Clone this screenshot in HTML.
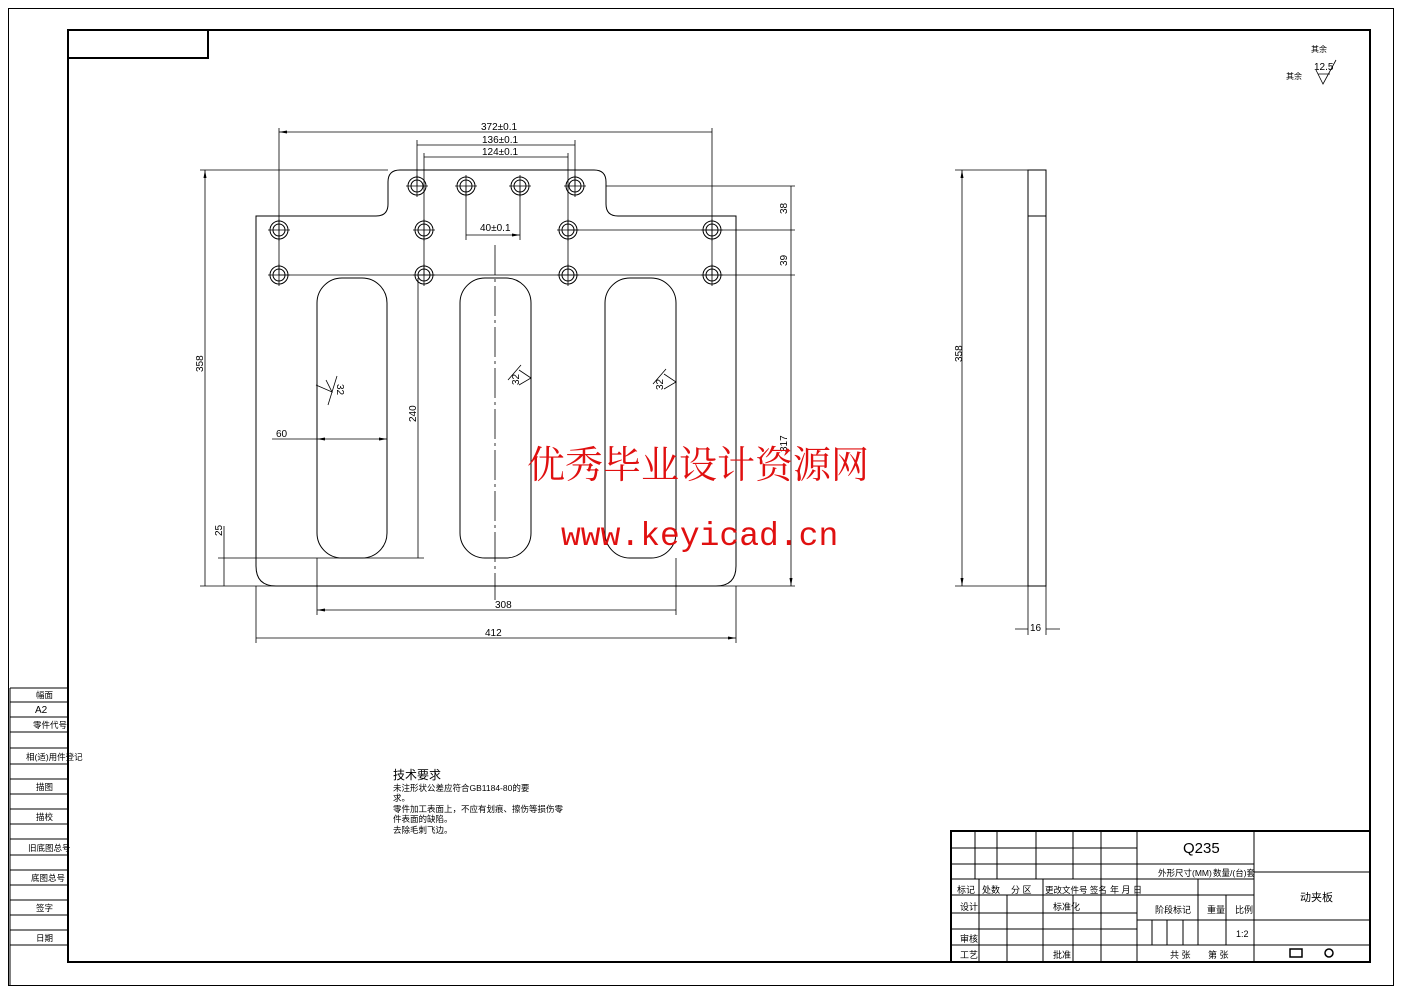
<!DOCTYPE html>
<html><head><meta charset="utf-8"><style>
html,body{margin:0;padding:0;background:#fff;}
svg{display:block;}
text{font-family:"Liberation Sans","Noto Sans CJK SC",sans-serif;fill:#000;}
</style></head><body>
<svg width="1403" height="992" viewBox="0 0 1403 992" xmlns="http://www.w3.org/2000/svg">
<defs>
<marker id="a" markerWidth="8" markerHeight="4" refX="8" refY="2" orient="auto-start-reverse" markerUnits="userSpaceOnUse"><path d="M8,2 L0,0.5 L0,3.5 Z" fill="#000"/></marker>
<g id="h"><circle r="9" fill="none" stroke="#000" stroke-width="1"/><circle r="6" fill="none" stroke="#000" stroke-width="1"/><path d="M-11,0H11M0,-11V11" stroke="#000" stroke-width="0.8"/></g>
</defs>
<rect width="1403" height="992" fill="#fff"/>
<g fill="none" stroke="#000">
<rect x="8.5" y="8.5" width="1385" height="977" stroke-width="1"/>
<rect x="68" y="30" width="1302" height="932" stroke-width="2"/>
<rect x="68" y="30" width="140" height="28" stroke-width="2"/>
<g stroke-width="1">
<path d="M10,688H68M10,702H68M10,717H68M10,732H68M10,748H68M10,764H68M10,779H68M10,794H68M10,809H68M10,824H68M10,839H68M10,855H68M10,870H68M10,885H68M10,900H68M10,915H68M10,930H68M10,945H68"/>
<path d="M10,688V985"/>
</g>
</g>
<g font-size="8.5">
<text x="36" y="698">幅面</text><text x="35" y="713" font-size="10">A2</text><text x="33" y="728">零件代号</text>
<text x="26" y="760">相(适)用件登记</text><text x="36" y="790">描图</text><text x="36" y="820">描校</text>
<text x="28" y="851">旧底图总号</text><text x="31" y="881">底图总号</text><text x="36" y="911">签字</text><text x="36" y="941">日期</text>
</g>

<g fill="none" stroke="#000" stroke-width="1">
<path d="M256,216 H376 Q388,216 388,204 V182 Q388,170 400,170 H594 Q606,170 606,182 V204 Q606,216 618,216 H736 V566 Q736,586 716,586 H276 Q256,586 256,566 Z"/>
<rect x="317" y="278" width="70" height="280" rx="25"/>
<rect x="460" y="278" width="71" height="280" rx="25"/>
<rect x="605" y="278" width="71" height="280" rx="25"/>
<path d="M495,245V600" stroke-dasharray="30,4,3,4" stroke-width="0.8"/>
</g>
<g>
<use href="#h" x="417" y="186"/><use href="#h" x="466" y="186"/><use href="#h" x="520" y="186"/><use href="#h" x="575" y="186"/>
<use href="#h" x="279" y="230"/><use href="#h" x="424" y="230"/><use href="#h" x="568" y="230"/><use href="#h" x="712" y="230"/>
<use href="#h" x="279" y="275"/><use href="#h" x="424" y="275"/><use href="#h" x="568" y="275"/><use href="#h" x="712" y="275"/>
</g>
<g fill="none" stroke="#000" stroke-width="0.8">
<path d="M279,128V275M712,128V275M417,140V186M575,140V186M424,153V275M568,153V275M466,186V240M520,186V240"/>
<path d="M279,132H712M417,145H575M424,157H568M466,235H520" marker-start="url(#a)" marker-end="url(#a)"/>
<path d="M200,170H388M606,186H795M568,230H795M279,275H795M200,586H795"/>
<path d="M205,170V586M224,558V586M418,278V558M791,186V230M791,230V275M791,275V586" marker-start="url(#a)" marker-end="url(#a)"/>
<path d="M218,558H424M224,526V558"/>
<path d="M272,439H317"/>
<path d="M317,439H387" marker-start="url(#a)" marker-end="url(#a)"/>
<path d="M317,558V615M676,558V615M256,586V643M736,586V643"/>
<path d="M317,610H676M256,638H736" marker-start="url(#a)" marker-end="url(#a)"/>
<rect x="1028" y="170" width="18" height="416" stroke-width="1"/>
<path d="M1028,216H1046" stroke-width="1"/>
<path d="M955,170H1028M955,586H1028M1028,586V635M1046,586V635"/>
<path d="M962,170V586" marker-start="url(#a)" marker-end="url(#a)"/>
<path d="M1015,629H1028M1046,629H1060"/>
<path d="M316,385 L332,392 L326,380 M337,376 L328,405"/>
<path d="M519,370 L531,378 L519,385 M508,380 L521,365"/>
<path d="M664,374 L676,382 L664,389 M653,384 L666,369"/>
<path d="M1316,70 L1323,84 L1336,60 M1318,74H1330"/>
</g>
<g font-size="10">
<text x="481" y="130">372±0.1</text><text x="482" y="143">136±0.1</text><text x="482" y="155">124±0.1</text>
<text x="480" y="231">40±0.1</text>
<text x="276" y="437">60</text>
<text x="495" y="608">308</text><text x="485" y="636">412</text>
<text x="1030" y="631">16</text>
<text transform="translate(203,372) rotate(-90)">358</text>
<text transform="translate(222,536) rotate(-90)">25</text>
<text transform="translate(416,422) rotate(-90)">240</text>
<text transform="translate(787,214) rotate(-90)">38</text>
<text transform="translate(787,266) rotate(-90)">39</text>
<text transform="translate(787,452) rotate(-90)">317</text>
<text transform="translate(962,362) rotate(-90)">358</text>
<text transform="translate(337,384) rotate(90)">32</text>
<text transform="translate(519,385) rotate(-90)">32</text>
<text transform="translate(663,390) rotate(-90)">32</text>
<text x="1314" y="70">12.5</text>
</g>
<g font-size="8"><text x="1311" y="52">其余</text><text x="1286" y="79">其余</text></g>

<text x="393" y="779" font-size="12">技术要求</text>
<g font-size="8.5"><text x="393" y="791">未注形状公差应符合GB1184-80的要</text><text x="393" y="801">求。</text>
<text x="393" y="812">零件加工表面上，不应有划痕、擦伤等损伤零</text><text x="393" y="822">件表面的缺陷。</text><text x="393" y="833">去除毛刺飞边。</text></g>

<g fill="none" stroke="#000">
<rect x="951" y="831" width="419" height="131" stroke-width="2"/>
<g stroke-width="1">
<path d="M951,848H1137M951,864H1137M951,879H1137M951,895H1137M951,913H1137M951,929H1137M951,945H1137"/>
<path d="M975,831V879M997,831V879M1036,831V879M1073,831V879M1101,831V879"/>
<path d="M979,879V962M1007,895V962M1043,879V962M1073,895V962M1101,879V962"/>
<path d="M1137,831V962M1254,831V962"/>
<path d="M1137,864H1254M1137,879H1254M1198,879V895M1137,895H1254M1137,920H1254M1137,945H1254"/>
<path d="M1198,895V945M1226,895V945M1152,920V945M1167,920V945M1183,920V945"/>
<path d="M1254,872H1370M1254,920H1370M1254,945H1370"/>
</g>
</g>
<g font-size="9">
<text x="1183" y="853" font-size="15">Q235</text>
<text x="1158" y="876" font-size="8.5">外形尺寸(MM)</text><text x="1213" y="876" font-size="8.5">数量/(台)套</text>
<text x="957" y="893">标记</text><text x="982" y="893">处数</text><text x="1011" y="893">分 区</text><text x="1045" y="893" font-size="8.5">更改文件号 签名</text><text x="1110" y="893">年 月 日</text>
<text x="960" y="910">设计</text><text x="1053" y="910">标准化</text>
<text x="1155" y="913">阶段标记</text><text x="1207" y="913">重量</text><text x="1235" y="913">比例</text>
<text x="1236" y="937">1:2</text>
<text x="960" y="942">审核</text><text x="960" y="958">工艺</text><text x="1053" y="958">批准</text>
<text x="1170" y="958">共 张</text><text x="1208" y="958">第 张</text>
<text x="1300" y="901" font-size="11">动夹板</text>
</g>
<g fill="none" stroke="#000" stroke-width="1.5"><rect x="1290" y="949" width="12" height="8"/><circle cx="1329" cy="953" r="4"/></g>

<text x="527" y="478" font-size="38" style="font-family:'Liberation Serif','Noto Serif CJK SC',serif;fill:#e01010">优秀毕业设计资源网</text>
<text x="561" y="545" font-size="33" style="font-family:'Liberation Mono',monospace;fill:#e01010">www.keyicad.cn</text>
</svg>
</body></html>
